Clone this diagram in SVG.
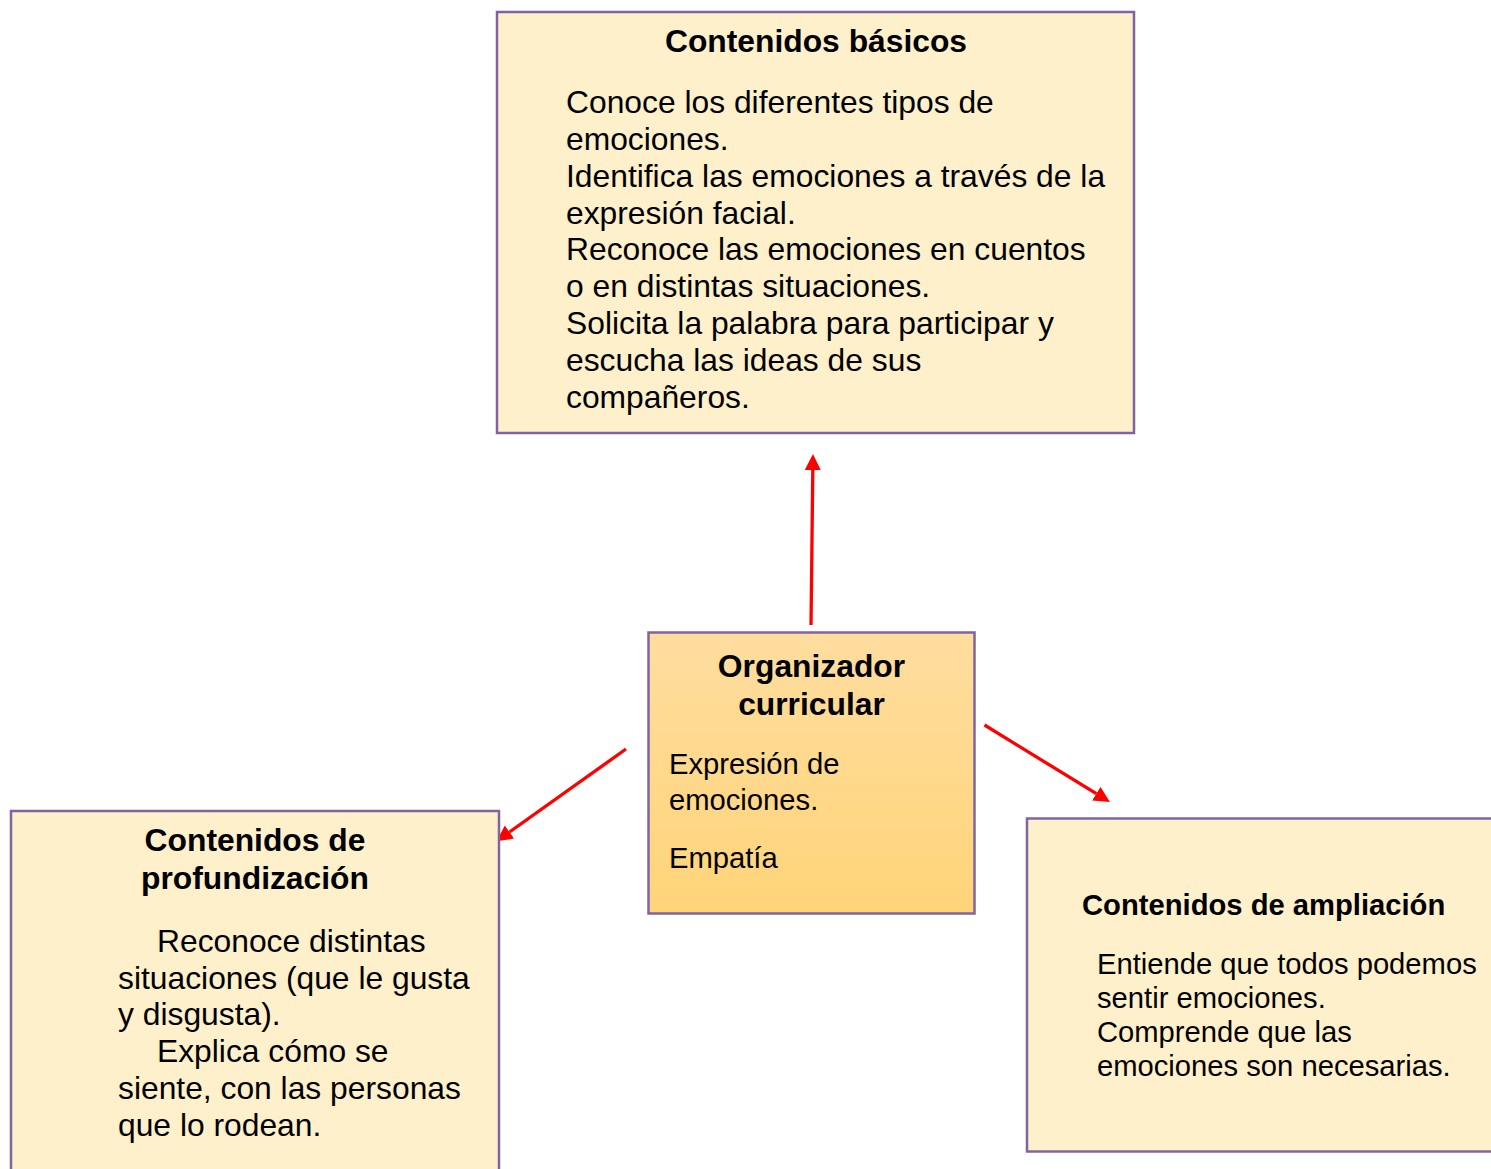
<svg xmlns="http://www.w3.org/2000/svg" width="1491" height="1169" viewBox="0 0 1491 1169">
  <style>
    .box { fill: #FFF0CC; stroke: #8064A2; stroke-width: 2.5; }
    .txt { font-family: "Liberation Sans", Arial, sans-serif; fill: #000000; }
    .big { font-size: 31.8px; }
    .mid { font-size: 29.2px; }
    .b { font-weight: bold; }
    .conn { stroke: #FF0000; stroke-width: 3.3; fill: none; marker-end: url(#arrow); }
  </style>
  <defs>
    <linearGradient id="centerGrad" x1="0" y1="0" x2="0" y2="1">
      <stop offset="0" stop-color="#FEDD9F"/>
      <stop offset="1" stop-color="#FFD479"/>
    </linearGradient>
    <marker id="arrow" markerUnits="userSpaceOnUse" markerWidth="16" markerHeight="16" refX="0" refY="8" orient="auto" viewBox="0 0 16 16">
      <path d="M0,0 L16,8 L0,16 z" fill="#FF0000"/>
    </marker>
  </defs>

  <rect width="1491" height="1169" fill="#FFFFFF"/>

  <g id="connectors">
    <line class="conn" x1="811" y1="625" x2="812.8" y2="470"/>
    <line class="conn" x1="626" y1="749" x2="509.5" y2="832"/>
    <line class="conn" x1="984.5" y1="725" x2="1096.3" y2="793.7"/>
  </g>

  <g id="node-basicos">
    <rect class="box" x="497" y="12" width="637" height="421"/>
    <text class="txt big b" x="816" y="52" text-anchor="middle">Contenidos básicos</text>
    <text class="txt big" x="566" y="113">Conoce los diferentes tipos de</text>
    <text class="txt big" x="566" y="150">emociones.</text>
    <text class="txt big" x="566" y="187">Identifica las emociones a través de la</text>
    <text class="txt big" x="566" y="224">expresión facial.</text>
    <text class="txt big" x="566" y="260">Reconoce las emociones en cuentos</text>
    <text class="txt big" x="566" y="297">o en distintas situaciones.</text>
    <text class="txt big" x="566" y="334">Solicita la palabra para participar y</text>
    <text class="txt big" x="566" y="371">escucha las ideas de sus</text>
    <text class="txt big" x="566" y="408">compañeros.</text>
  </g>

  <g id="node-organizador">
    <rect x="648.5" y="632.5" width="326" height="281" fill="url(#centerGrad)" stroke="#8064A2" stroke-width="2.5"/>
    <text class="txt big b" x="811.5" y="677" text-anchor="middle">Organizador</text>
    <text class="txt big b" x="811.5" y="715" text-anchor="middle">curricular</text>
    <text class="txt mid" x="669" y="774">Expresión de</text>
    <text class="txt mid" x="669" y="810">emociones.</text>
    <text class="txt mid" x="669" y="868">Empatía</text>
  </g>

  <g id="node-profundizacion">
    <rect class="box" x="11" y="811" width="488" height="370"/>
    <text class="txt big b" x="255" y="851" text-anchor="middle">Contenidos de</text>
    <text class="txt big b" x="255" y="889" text-anchor="middle">profundización</text>
    <text class="txt big" x="157" y="952">Reconoce distintas</text>
    <text class="txt big" x="118" y="988.5">situaciones (que le gusta</text>
    <text class="txt big" x="118" y="1025">y disgusta).</text>
    <text class="txt big" x="157" y="1062">Explica cómo se</text>
    <text class="txt big" x="118" y="1099">siente, con las personas</text>
    <text class="txt big" x="118" y="1135.5">que lo rodean.</text>
  </g>

  <g id="node-ampliacion">
    <rect class="box" x="1027" y="818.5" width="480" height="333"/>
    <text class="txt mid b" x="1082" y="915">Contenidos de ampliación</text>
    <text class="txt mid" x="1097" y="973.5">Entiende que todos podemos</text>
    <text class="txt mid" x="1097" y="1007.5">sentir emociones.</text>
    <text class="txt mid" x="1097" y="1041.7">Comprende que las</text>
    <text class="txt mid" x="1097" y="1076">emociones son necesarias.</text>
  </g>
</svg>
